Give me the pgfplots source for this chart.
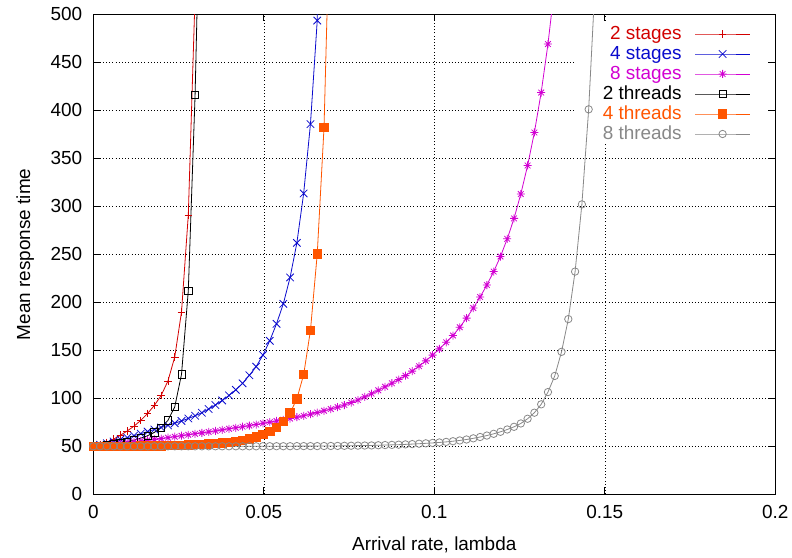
\documentclass[border=0pt]{standalone}
\usepackage{fontspec}
\setmainfont{Liberation Sans}
\usepackage{pgfplots}
\pgfplotsset{compat=1.18}
\definecolor{cRed}{RGB}{210,0,0}
\definecolor{cBlue}{RGB}{10,10,205}
\definecolor{cMag}{RGB}{210,0,210}
\definecolor{cOrange}{RGB}{255,85,0}
\definecolor{cGray}{RGB}{136,136,136}
\newcommand\chartfont{\fontsize{19}{22}\selectfont}
\pgfdeclareplotmark{gstar}{%
  \pgfpathmoveto{\pgfqpoint{-\pgfplotmarksize}{0pt}}\pgfpathlineto{\pgfqpoint{\pgfplotmarksize}{0pt}}%
  \pgfpathmoveto{\pgfqpoint{0pt}{-\pgfplotmarksize}}\pgfpathlineto{\pgfqpoint{0pt}{\pgfplotmarksize}}%
  \pgfpathmoveto{\pgfqpoint{-.707\pgfplotmarksize}{-.707\pgfplotmarksize}}\pgfpathlineto{\pgfqpoint{.707\pgfplotmarksize}{.707\pgfplotmarksize}}%
  \pgfpathmoveto{\pgfqpoint{-.707\pgfplotmarksize}{.707\pgfplotmarksize}}\pgfpathlineto{\pgfqpoint{.707\pgfplotmarksize}{-.707\pgfplotmarksize}}%
  \pgfusepathqstroke}
\begin{document}
\begin{tikzpicture}
\useasboundingbox (-93.3bp,-63.7bp) rectangle (698.7bp,494.3bp);
\begin{axis}[
  at={(0,0)}, anchor=south west,
  scale only axis, width=682bp, height=480bp,
  xmin=0, xmax=0.2, ymin=0, ymax=500,
  xtick={0,0.05,0.1,0.15,0.2}, xticklabels={0,0.05,0.1,0.15,0.2},
  ytick={0,50,100,150,200,250,300,350,400,450,500},
  /pgf/number format/assume math mode=true,
  xtick pos=both, ytick pos=both, tick align=inside,
  major tick length=7bp,
  tick style={black, line width=0.8bp},
  axis line style={black, line width=1bp},
  grid=major, grid style={black, line width=0.6bp, dash pattern=on 1bp off 2.2bp},
  ticklabel style={font=\chartfont},
  yticklabel style={inner sep=0pt, xshift=-11bp},
  xticklabel style={inner sep=0pt, yshift=-11bp},
  label style={font=\chartfont},
  xlabel={Arrival rate, lambda},
  ylabel={Mean response time},
  xlabel style={at={(axis description cs:0.5,-0.105)}, anchor=center},
  ylabel style={at={(axis description cs:-0.0997,0.5)}, anchor=center},
  legend plot pos=right,
  legend cell align=right,
  legend image code/.code={\draw[mark repeat=2,mark phase=2,#1] plot coordinates {(0bp,0bp) (27.5bp,0bp) (55bp,0bp)};},
  legend style={at={(rel axis cs:1,1)}, anchor=north east, draw=none, fill=none,
    inner xsep=24.6bp, inner ysep=9.5bp, font=\chartfont, row sep=0pt,
    nodes={inner sep=0pt, text height=15.5bp, text depth=4.5bp},
    /tikz/every odd column/.append style={column sep=13bp}},
]
% white area behind the legend (covers the grid there)
\addplot[fill=white, draw=none, forget plot] coordinates {(0.1413,366) (0.1978,366) (0.1978,492.7) (0.1413,492.7) (0.1413,366)};
% 2 stages
\addplot[color=cRed, line width=0.8bp, mark=+, mark size=3.8bp] table[row sep=\\] {
x y \\ 0 50 \\ 0.00199 51.8 \\ 0.00398 54 \\ 0.00597 57.5 \\ 0.00796 61.5 \\ 0.00995 66 \\
0.01194 71 \\ 0.01393 77 \\ 0.01592 84.2 \\ 0.01791 92.6 \\ 0.0199 103 \\ 0.02189 118 \\
0.02388 143 \\ 0.02587 190 \\ 0.02786 291 \\ 0.02985 520 \\
};
\addlegendentry{\textcolor{cRed}{2 stages}}
% 4 stages
\addplot[color=cBlue, line width=0.8bp, mark=x, mark size=5.3bp] table[row sep=\\] {
x y \\ 0 50 \\ 0.00199 51.5 \\ 0.00398 53.2 \\ 0.00597 55 \\ 0.00796 57 \\ 0.00995 59 \\
0.01194 61.1 \\ 0.01393 63.2 \\ 0.01592 65.3 \\ 0.01791 67.5 \\ 0.0199 69.6 \\ 0.02189 71.8 \\
0.02388 74 \\ 0.02587 76.4 \\ 0.02786 79 \\ 0.02985 81.8 \\ 0.03184 85 \\ 0.03383 88.8 \\
0.03582 93 \\ 0.03781 97.7 \\ 0.0398 103 \\ 0.04179 108.8 \\ 0.04378 115.6 \\ 0.04577 124 \\
0.04776 133 \\ 0.04975 145 \\ 0.05174 159.9 \\ 0.05373 177.6 \\ 0.05572 198.4 \\ 0.05771 225.9 \\
0.0597 261.9 \\ 0.06169 313.4 \\ 0.06368 385.6 \\ 0.06567 493.5 \\ 0.06766 900 \\
};
\addlegendentry{\textcolor{cBlue}{4 stages}}
% 8 stages
\addplot[color=cMag, line width=0.8bp, mark=gstar, mark size=4bp] table[row sep=\\] {
x y \\ 0 50 \\ 0.00199 50.8 \\ 0.00398 51.6 \\ 0.00597 52.4 \\ 0.00796 53.2 \\ 0.00995 54 \\
0.01194 54.8 \\ 0.01393 55.6 \\ 0.01592 56.4 \\ 0.01791 57.2 \\ 0.0199 58 \\ 0.02189 59 \\
0.02388 60 \\ 0.02587 61 \\ 0.02786 62 \\ 0.02985 63 \\ 0.03184 64 \\ 0.03383 65 \\
0.03582 66 \\ 0.03781 67.1 \\ 0.0398 68.2 \\ 0.04179 69.3 \\ 0.04378 70.4 \\ 0.04577 71.5 \\
0.04776 72.7 \\ 0.04975 74 \\ 0.05174 75.2 \\ 0.05373 76.4 \\ 0.05572 77.6 \\ 0.05771 78.9 \\
0.0597 80.3 \\ 0.06169 81.8 \\ 0.06368 83.4 \\ 0.06567 85.1 \\ 0.06766 87 \\ 0.06965 88.8 \\
0.07164 90.8 \\ 0.07363 93 \\ 0.07562 95.6 \\ 0.07761 98.2 \\ 0.0796 101.5 \\ 0.08159 104.8 \\
0.08358 108.3 \\ 0.08557 112 \\ 0.08756 115.7 \\ 0.08955 119.5 \\ 0.09154 123.6 \\ 0.09353 128.3 \\
0.09552 133.5 \\ 0.09751 139 \\ 0.0995 145 \\ 0.10149 151.5 \\ 0.10348 158.3 \\ 0.10547 165.4 \\
0.10746 174 \\ 0.10945 183.5 \\ 0.11144 194 \\ 0.11343 205.5 \\ 0.11542 218 \\ 0.11741 232 \\
0.1194 247.7 \\ 0.12139 266.1 \\ 0.12338 287.4 \\ 0.12537 312.8 \\ 0.12736 342.5 \\ 0.12935 376.9 \\
0.13134 418.5 \\ 0.13333 469 \\ 0.13532 530 \\
};
\addlegendentry{\textcolor{cMag}{8 stages}}
% 2 threads
\addplot[color=black, line width=0.8bp, mark=square, mark size=3.6bp] table[row sep=\\] {
x y \\ 0 50 \\ 0.00199 50.6 \\ 0.00398 51.3 \\ 0.00597 52.2 \\ 0.00796 53.3 \\ 0.00995 54.7 \\
0.01194 56.4 \\ 0.01393 58.5 \\ 0.01592 61 \\ 0.01791 64.5 \\ 0.0199 69.5 \\ 0.02189 77 \\
0.02388 91 \\ 0.02587 125 \\ 0.02786 212 \\ 0.02985 416 \\ 0.03184 720 \\
};
\addlegendentry{\textcolor{black}{2 threads}}
% 4 threads
\addplot[color=cOrange, line width=0.8bp, mark=square*, mark size=4.2bp, mark options={fill=cOrange, draw=cOrange}] table[row sep=\\] {
x y \\ 0 50 \\ 0.00199 50 \\ 0.00398 50 \\ 0.00597 50 \\ 0.00796 50.1 \\ 0.00995 50.1 \\
0.01194 50.2 \\ 0.01393 50.3 \\ 0.01592 50.4 \\ 0.01791 50.5 \\ 0.0199 50.6 \\ 0.02189 50.8 \\
0.02388 51 \\ 0.02587 51.2 \\ 0.02786 51.5 \\ 0.02985 51.8 \\ 0.03184 52.1 \\ 0.03383 52.5 \\
0.03582 53 \\ 0.03781 53.6 \\ 0.0398 54.3 \\ 0.04179 55.2 \\ 0.04378 56.3 \\ 0.04577 57.6 \\
0.04776 59.7 \\ 0.04975 62.6 \\ 0.05174 65.7 \\ 0.05373 69.9 \\ 0.05572 75.9 \\ 0.05771 84.6 \\
0.0597 99.5 \\ 0.06169 124.7 \\ 0.06368 170.7 \\ 0.06567 250.3 \\ 0.06766 382 \\ 0.06965 650 \\
};
\addlegendentry{\textcolor{cOrange}{4 threads}}
% 8 threads
\addplot[color=cGray, line width=0.8bp, mark=o, mark size=3.7bp] table[row sep=\\] {
x y \\ 0 50 \\ 0.00199 50 \\ 0.00398 50 \\ 0.00597 50 \\ 0.00796 50 \\ 0.00995 50 \\
0.01194 50 \\ 0.01393 50 \\ 0.01592 50 \\ 0.01791 50 \\ 0.0199 50 \\ 0.02189 50 \\
0.02388 50 \\ 0.02587 50 \\ 0.02786 50 \\ 0.02985 50 \\ 0.03184 50 \\ 0.03383 50 \\
0.03582 50 \\ 0.03781 50 \\ 0.0398 50 \\ 0.04179 50 \\ 0.04378 50 \\ 0.04577 50 \\
0.04776 50 \\ 0.04975 50.1 \\ 0.05174 50.1 \\ 0.05373 50.1 \\ 0.05572 50.1 \\ 0.05771 50.1 \\
0.0597 50.2 \\ 0.06169 50.2 \\ 0.06368 50.2 \\ 0.06567 50.2 \\ 0.06766 50.3 \\ 0.06965 50.35 \\
0.07164 50.4 \\ 0.07363 50.5 \\ 0.07562 50.6 \\ 0.07761 50.7 \\ 0.0796 50.8 \\ 0.08159 50.9 \\
0.08358 51.1 \\ 0.08557 51.3 \\ 0.08756 51.5 \\ 0.08955 51.7 \\ 0.09154 52 \\ 0.09353 52.3 \\
0.09552 52.7 \\ 0.09751 53.1 \\ 0.0995 53.5 \\ 0.10149 54 \\ 0.10348 54.6 \\ 0.10547 55.3 \\
0.10746 56.1 \\ 0.10945 57.1 \\ 0.11144 58.3 \\ 0.11343 59.7 \\ 0.11542 61.2 \\ 0.11741 63 \\
0.1194 65.1 \\ 0.12139 67.5 \\ 0.12338 70.3 \\ 0.12537 73.8 \\ 0.12736 78.7 \\ 0.12935 85 \\
0.13134 93.7 \\ 0.13333 106.5 \\ 0.13532 123.3 \\ 0.13731 148.4 \\ 0.1393 182.5 \\ 0.14129 232 \\
0.14328 302 \\ 0.14527 401 \\ 0.14726 540 \\ 0.14925 760 \\
};
\addlegendentry{\textcolor{cGray}{8 threads}}
\end{axis}
\end{tikzpicture}
\end{document}
